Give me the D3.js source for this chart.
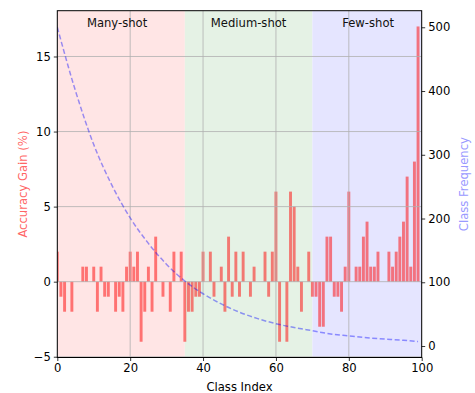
<!DOCTYPE html>
<html>
<head>
<meta charset="utf-8">
<script src="https://cdn.jsdelivr.net/npm/d3@7"></script>
<style>
  body { margin: 0; background: #fff; }
  svg { font-family: "DejaVu Sans", sans-serif; }
</style>
</head>
<body>
<div id="chart"></div>
<script>
// accuracy gain per class (percentage points), classes 0..99
const gains = [
  2, -1, -2, 0, -2, 0, 0, 1, 1, 0,
  1, -2, 1, -1, -1, 0, -2, -1, -2, 1,
  2, 1, 2, -4, -2, 1, -2, 3, 0, -1,
  0, -2, 2, 0, 2, -4, -2, -2, -1, -1,
  2, 0, 2, -1, 0, 1, -2, 3, -1, 2,
  -1, 2, 0, -1, 1, 0, 0, 2, -1, 2,
  6, -4, 0, -4, 6, 5, 1, -2, 0, 2,
  -1, -1, -3, -3, 3, 3, -1, -1, -2, 1,
  6, 0, 1, 1, 3, 4, 1, 1, 2, 0,
  0, 2, 1, 2, 3, 4, 7, 1, 8, 17
];

// class frequency
const freqIndex = [0, 5, 10, 15, 20, 25, 30, 35, 40, 45, 50, 55, 60, 65, 70, 75, 80, 85, 90, 95, 99];
const freqValues = [500, 400, 316, 252, 201, 161, 128, 102, 82, 66, 53, 43, 35, 29, 24, 19, 16, 13, 11, 9, 7];

// class groups
const groupNames = ['Many-shot', 'Medium-shot', 'Few-shot'];
const groupStart = [0, 35, 70];
const groupEnd = [35, 70, 100];
const groupLabelAt = [16.4, 52.5, 85.3];
const groupColors = ['rgb(255,229,229)', 'rgb(229,242,229)', 'rgb(229,229,255)'];

const xTicks = [0, 20, 40, 60, 80, 100];
const leftTicks = [-5, 0, 5, 10, 15];
const rightTicks = [0, 100, 200, 300, 400, 500];

const groups = groupNames.map((name, i) => ({
  name, start: groupStart[i], end: groupEnd[i], labelAt: groupLabelAt[i], color: groupColors[i]
}));

const width = 475;
const height = 393;
const margin = { top: 10.7, right: 53.3, bottom: 35.5, left: 57.3 };
const innerWidth = width - margin.left - margin.right;
const innerHeight = height - margin.top - margin.bottom;
const fontSize = '11.6px';

const svg = d3.select('#chart')
  .append('svg')
  .attr('width', width)
  .attr('height', height);

const g = svg.append('g')
  .attr('transform', `translate(${margin.left},${margin.top})`);

const xScale = d3.scaleLinear().domain([0, 100]).range([0, innerWidth]);
const yScale = d3.scaleLinear().domain([-5.05, 18.05]).range([innerHeight, 0]);
const y2Scale = d3.scaleLinear().domain([-18, 526]).range([innerHeight, 0]);

svg.append('defs').append('clipPath')
  .attr('id', 'plot-clip')
  .append('rect')
  .attr('width', innerWidth)
  .attr('height', innerHeight);

const plot = g.append('g').attr('clip-path', 'url(#plot-clip)');

// group backgrounds
plot.selectAll('rect.span')
  .data(groups)
  .enter()
  .append('rect')
  .attr('class', 'span')
  .attr('x', d => xScale(d.start))
  .attr('width', d => xScale(d.end) - xScale(d.start))
  .attr('y', 0)
  .attr('height', innerHeight)
  .attr('fill', d => d.color);

// bars
const barWidth = 0.8;
plot.selectAll('rect.bar')
  .data(gains)
  .enter()
  .append('rect')
  .attr('class', 'bar')
  .attr('x', (d, i) => xScale(i - barWidth / 2))
  .attr('width', xScale(barWidth) - xScale(0))
  .attr('y', d => yScale(Math.max(0, d)))
  .attr('height', d => Math.abs(yScale(d) - yScale(0)))
  .attr('fill', 'red')
  .attr('fill-opacity', 0.5);

// grid
plot.selectAll('line.vgrid')
  .data(xTicks)
  .enter()
  .append('line')
  .attr('x1', d => xScale(d))
  .attr('x2', d => xScale(d))
  .attr('y1', 0)
  .attr('y2', innerHeight)
  .attr('stroke', '#b0b0b0')
  .attr('stroke-width', 0.8);

plot.selectAll('line.hgrid')
  .data(leftTicks)
  .enter()
  .append('line')
  .attr('x1', 0)
  .attr('x2', innerWidth)
  .attr('y1', d => yScale(d))
  .attr('y2', d => yScale(d))
  .attr('stroke', '#b0b0b0')
  .attr('stroke-width', 0.8);

// frequency curve
const line = d3.line()
  .x((d, i) => xScale(freqIndex[i]))
  .y(d => y2Scale(d))
  .curve(d3.curveMonotoneX);

plot.append('path')
  .datum(freqValues)
  .attr('d', line)
  .attr('fill', 'none')
  .attr('stroke', 'blue')
  .attr('stroke-opacity', 0.4)
  .attr('stroke-width', 1.5)
  .attr('stroke-dasharray', '5,2.5');

// group labels
g.selectAll('text.group')
  .data(groups)
  .enter()
  .append('text')
  .attr('x', d => xScale(d.labelAt))
  .attr('y', 16.8)
  .attr('text-anchor', 'middle')
  .attr('font-size', fontSize)
  .attr('fill', '#111')
  .text(d => d.name);

// axes
const xAxis = g.append('g')
  .attr('transform', `translate(0,${innerHeight})`)
  .call(d3.axisBottom(xScale).tickValues(xTicks).tickSize(3.5).tickPadding(3).tickSizeOuter(0));

const yAxis = g.append('g')
  .call(d3.axisLeft(yScale).tickValues(leftTicks).tickSize(3.5).tickPadding(3).tickSizeOuter(0));

const y2Axis = g.append('g')
  .attr('transform', `translate(${innerWidth},0)`)
  .call(d3.axisRight(y2Scale).tickValues(rightTicks).tickSize(3.5).tickPadding(3).tickSizeOuter(0));

[xAxis, yAxis, y2Axis].forEach(a => {
  a.selectAll('text').attr('font-size', fontSize).attr('fill', '#000').attr('font-family', '"DejaVu Sans", sans-serif');
  a.selectAll('line').attr('stroke', '#000').attr('stroke-width', 0.8);
  a.select('.domain').remove();
});

// frame
g.append('rect')
  .attr('width', innerWidth)
  .attr('height', innerHeight)
  .attr('fill', 'none')
  .attr('stroke', '#000')
  .attr('stroke-width', 1);

// axis labels
svg.append('text')
  .attr('x', margin.left + innerWidth / 2)
  .attr('y', height - 2.5)
  .attr('text-anchor', 'middle')
  .attr('font-size', fontSize)
  .text('Class Index');

svg.append('text')
  .attr('transform', 'rotate(-90)')
  .attr('x', -(margin.top + innerHeight / 2))
  .attr('y', 26.5)
  .attr('text-anchor', 'middle')
  .attr('font-size', fontSize)
  .attr('fill', '#ff6666')
  .text('Accuracy Gain (%)');

svg.append('text')
  .attr('transform', 'rotate(-90)')
  .attr('x', -(margin.top + innerHeight / 2))
  .attr('y', 467.5)
  .attr('text-anchor', 'middle')
  .attr('font-size', fontSize)
  .attr('fill', '#9999ff')
  .text('Class Frequency');
</script>
</body>
</html>
